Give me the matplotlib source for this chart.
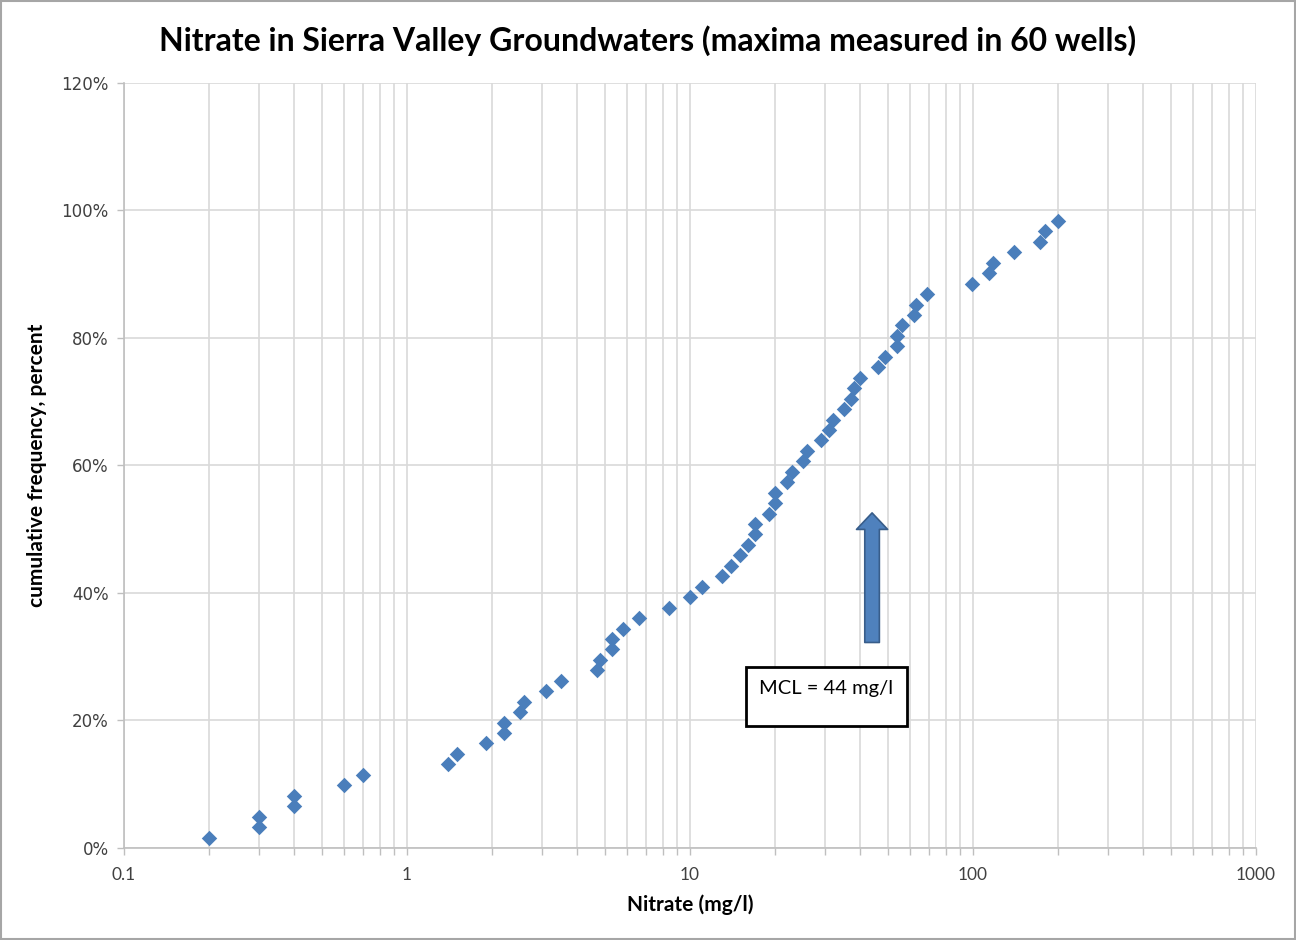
import numpy as np
import matplotlib
matplotlib.use("Agg")
import matplotlib.pyplot as plt
from matplotlib.patches import Rectangle, FancyArrowPatch
from matplotlib.ticker import LogLocator, FuncFormatter

# maxima of nitrate measured in 60 wells (mg/l), sorted
nitrate = [0.2, 0.3, 0.3, 0.4, 0.4, 0.6, 0.7, 1.4, 1.5, 1.9,
           2.2, 2.2, 2.5, 2.6, 3.1, 3.5, 4.7, 4.8, 5.3, 5.3,
           5.8, 6.6, 8.4, 10, 11, 13, 14, 15, 16, 17,
           17, 19, 20, 20, 22, 23, 25, 26, 29, 31,
           32, 35, 37, 38, 40, 46, 49, 54, 54, 56,
           62, 63, 69, 99, 114, 118, 140, 173, 180, 200]
rank = np.arange(1, len(nitrate) + 1)
cum_freq = rank / (len(nitrate) + 1)

mcl = 44
y_ticks = [0, 0.2, 0.4, 0.6, 0.8, 1.0, 1.2]
x_ticks = [0.1, 1, 10, 100, 1000]
x_tick_labels = ["0.1", "1", "10", "100", "1000"]

narrow = ["Lato", "DejaVu Sans"]
grid_col = "#d9d9d9"

fig = plt.figure(figsize=(12.96, 9.4), dpi=100)
ax = fig.add_axes([0.0957, 0.0979, 0.8734, 0.8138])

ax.scatter(nitrate, cum_freq, marker="D", s=62, color="#4a7ebb", zorder=3, linewidths=0)

ax.set_xscale("log")
ax.set_xlim(0.1, 1000)
ax.set_ylim(0, 1.2)
ax.set_yticks(y_ticks)
ax.yaxis.set_major_formatter(FuncFormatter(lambda v, p: f"{v*100:.0f}%"))
ax.set_xticks(x_ticks)
ax.set_xticklabels(x_tick_labels)
ax.xaxis.set_minor_locator(LogLocator(base=10, subs=np.arange(2, 10)))
ax.xaxis.set_minor_formatter(plt.NullFormatter())

ax.grid(True, which="both", axis="x", color=grid_col, lw=1.2)
ax.grid(True, which="major", axis="y", color=grid_col, lw=1.2)
ax.set_axisbelow(True)

for s in ["top", "right"]:
    ax.spines[s].set_visible(False)
for s in ["left", "bottom"]:
    ax.spines[s].set_color("#bfbfbf")
    ax.spines[s].set_linewidth(1.2)

ax.tick_params(axis="both", which="both", color="#bfbfbf", length=5, width=1)
ax.tick_params(axis="y", labelsize=12, pad=6, labelcolor="#404040")
ax.tick_params(axis="x", labelsize=12.5, pad=9, labelcolor="#404040")
for lab in ax.get_xticklabels():
    lab.set_family(narrow)

ax.set_xlabel("Nitrate (mg/l)", fontsize=15, fontweight="bold", family=narrow, labelpad=8)
ax.set_ylabel("cumulative frequency, percent", fontsize=15, fontweight="bold",
              family=narrow, labelpad=10)
fig.text(0.5, 0.957, "Nitrate in Sierra Valley Groundwaters (maxima measured in 60 wells)",
         ha="center", va="center", fontsize=23, fontweight="bold", family=narrow)

# arrow pointing at the MCL
arrow = FancyArrowPatch((mcl, 0.318), (mcl, 0.53),
                        arrowstyle="simple,head_length=0.85,head_width=1.6,tail_width=0.75",
                        mutation_scale=14, fc="#4f81bd", ec="#385d8a", lw=1.2, zorder=4)
ax.add_patch(arrow)

# label box
ax.add_patch(Rectangle((0.5495, 0.1595), 0.1422, 0.0771, transform=ax.transAxes,
                       fc="white", ec="black", lw=2, zorder=4))
ax.text(0.6205, 0.208, f"MCL = {mcl} mg/l", transform=ax.transAxes, ha="center",
        va="center", fontsize=14.5, family=narrow, zorder=5)

# outer frame of the picture
fig.add_artist(Rectangle((0.001, 0.001), 0.998, 0.998, transform=fig.transFigure,
                         fill=False, ec="#a6a6a6", lw=1.5))

fig.savefig("out.png", dpi=100)
